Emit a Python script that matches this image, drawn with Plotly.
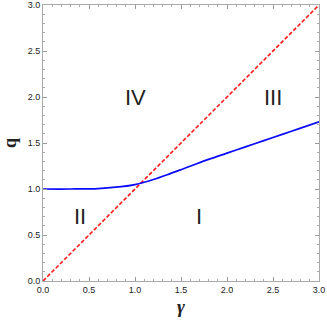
import plotly.graph_objects as go

# values
gamma = [0.0, 0.3, 0.6, 0.85, 1.0, 1.1, 1.2, 1.35, 1.5, 1.65, 1.8, 2.0, 2.2, 2.4, 2.6, 2.8, 3.0]
q_curve = [1.0, 1.0, 1.005, 1.025, 1.048, 1.073, 1.103, 1.155, 1.21, 1.267, 1.322, 1.39, 1.458, 1.526, 1.594, 1.662, 1.73]
diag_x = [0.0, 3.0]
diag_y = [0.0, 3.0]

region_labels = ["I", "II", "III", "IV"]
region_x = [1.70, 0.40, 2.50, 1.00]
region_y = [0.70, 0.70, 2.00, 2.00]

fig = go.Figure()
fig.add_trace(go.Scatter(x=diag_x, y=diag_y, mode="lines",
                         line=dict(color="#ff1a1a", width=1.6, dash="4px,2px")))
fig.add_trace(go.Scatter(x=gamma, y=q_curve, mode="lines",
                         line=dict(color="#0a0aff", width=1.7, shape="spline", smoothing=1)))

for lab, x, y in zip(region_labels, region_x, region_y):
    fig.add_annotation(x=x, y=y, text=lab, showarrow=False,
                       font=dict(family="Liberation Sans", size=22, color="#222"))

axis_style = dict(
    range=[0, 3], dtick=0.5, tickformat=".1f",
    ticks="inside", ticklen=4, tickcolor="#999", tickwidth=1,
    showline=True, linecolor="#aaa", linewidth=1, mirror="ticks",
    showgrid=False, zeroline=False, automargin=False,
    tickfont=dict(family="Liberation Sans", size=9, color="#222"),
    minor=dict(ticks="inside", ticklen=2, tickcolor="#aaa", dtick=0.1),
)

fig.update_xaxes(**axis_style, title=dict(text="<b><i>γ</i></b>", standoff=5,
                 font=dict(family="Liberation Serif", size=19, color="#222")))
fig.update_yaxes(**axis_style, title=dict(text="<b>q</b>", standoff=6,
                 font=dict(family="Liberation Serif", size=18, color="#222")))

fig.update_layout(
    width=327, height=323,
    margin=dict(l=43, r=8, t=5, b=42),
    paper_bgcolor="white", plot_bgcolor="white",
    showlegend=False,
)

# page body has a default 8px margin, drop it so the figure sits at the corner
fig.write_html("out.html", config={"displayModeBar": False},
               post_script="document.body.style.margin='0';")
